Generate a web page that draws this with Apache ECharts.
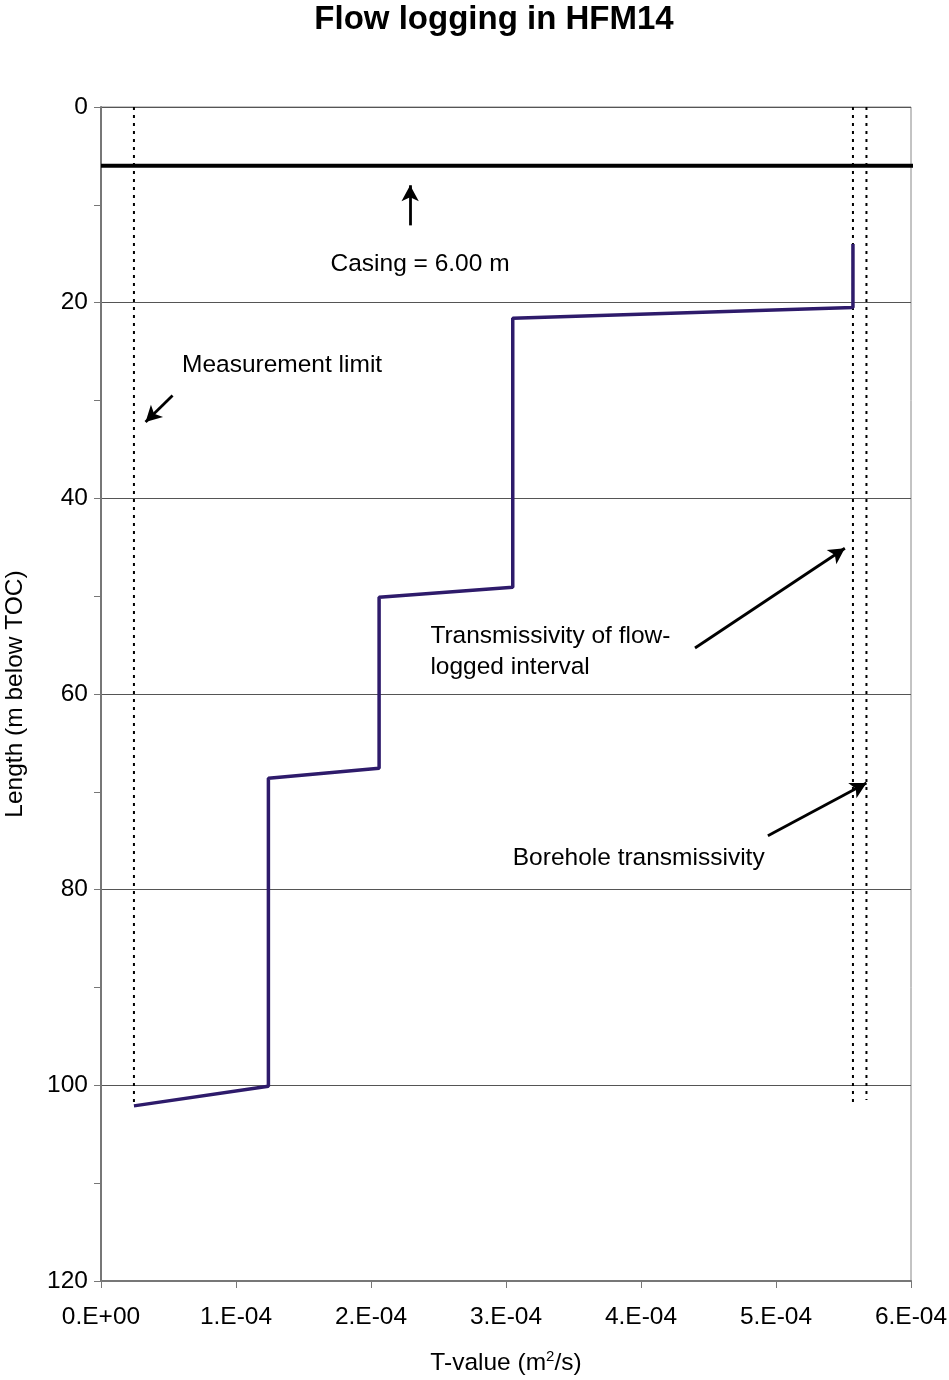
<!DOCTYPE html>
<html><head><meta charset="utf-8">
<script src="https://cdn.jsdelivr.net/npm/echarts@6/dist/echarts.min.js"></script>
<style>html,body{margin:0;padding:0;background:#fff}#c{width:949px;height:1380px}</style>
</head><body><div id="c"></div>
<script>
// Flow log profile: T-value (m2/s) vs length (m)
const flowT = [5.57e-4, 5.57e-4, 3.05e-4, 3.05e-4, 2.06e-4, 2.06e-4, 1.24e-4, 1.24e-4, 0.244e-4];
const flowL = [14.0, 20.5, 21.6, 49.1, 50.1, 67.6, 68.6, 100.1, 102.1];
const measLimitT = 0.244e-4;
const intervalT = 5.57e-4;
const boreholeT = 5.67e-4;
const dottedEnd = [102, 102, 101.5]; // measurement, interval, borehole
const casing = 6.0;
const xTicks = ['0.E+00','1.E-04','2.E-04','3.E-04','4.E-04','5.E-04','6.E-04'];
// annotation arrows [x1,y1,x2,y2] in data units (from -> to)
const arrows = [
  [2.29e-4, 12.1, 2.29e-4, 8.0],
  [0.53e-4, 29.5, 0.33e-4, 32.2],
  [4.40e-4, 55.3, 5.51e-4, 45.1],
  [4.94e-4, 74.5, 5.67e-4, 69.1]
];
const labels = [
  ['Casing = 6.00 m', 1.70e-4, 16.2],
  ['Measurement limit', 0.60e-4, 26.5],
  ['Transmissivity of flow-', 2.44e-4, 54.3],
  ['logged interval', 2.44e-4, 57.4],
  ['Borehole transmissivity', 3.05e-4, 76.9]
];

const chart = echarts.init(document.getElementById('c'), null, {renderer:'canvas'});
const FONT = 'Liberation Sans, Arial, sans-serif';
const FS = 24.5;
const dotted = {color:'#000', width:2, type:[3,5]};
function vline(x, yEnd){ return {type:'line', data:[[x,0],[x,yEnd]], symbol:'none', lineStyle:dotted, silent:true, z:3}; }

const series = [
  {type:'line', data:flowT.map((t,i)=>[t,flowL[i]]), symbol:'none', lineStyle:{color:'#2E1B6B', width:3.5}, z:5,
   markLine:{silent:true, symbol:['none','arrow'], symbolSize:[13,16], animation:false,
     label:{show:false}, lineStyle:{color:'#000', width:2.8, type:'solid'},
     data: arrows.map(a=>[{coord:[a[0],a[1]]},{coord:[a[2],a[3]]}])}},
  vline(measLimitT, dottedEnd[0]),
  vline(intervalT, dottedEnd[1]),
  vline(boreholeT, dottedEnd[2]),
  {type:'line', data:[[0,casing],[6.05e-4,casing]], symbol:'none', lineStyle:{color:'#000', width:4}, z:6, silent:true}
];

chart.setOption({
  animation:false,
  backgroundColor:'#fff',
  title:{text:'Flow logging in HFM14', left:489, top:-2, textAlign:'center',
    textStyle:{fontFamily:FONT, fontSize:33, fontWeight:'bold', color:'#000'}},
  grid:{left:101, top:107, width:810, height:1174, show:true, borderColor:'#888', borderWidth:1,
    containLabel:false, outerBoundsMode:'none'},
  xAxis:{type:'value', min:0, max:6e-4, interval:1e-4, position:'bottom',
    name:'{a|T-value (m}{s|2}{a|/s)}', nameLocation:'middle', nameGap:68,
    nameTextStyle:{fontFamily:FONT, fontSize:FS, color:'#000',
      rich:{a:{fontFamily:FONT, fontSize:FS, color:'#000', verticalAlign:'bottom'},
            s:{fontFamily:FONT, fontSize:15, color:'#000', verticalAlign:'top', padding:[0,0,12,0]}}},
    axisLine:{show:true, onZero:false, lineStyle:{color:'#777', width:2}},
    axisTick:{show:true, length:7, lineStyle:{color:'#777'}},
    axisLabel:{fontFamily:FONT, fontSize:FS, color:'#000', margin:24,
      formatter:(v)=>xTicks[Math.round(v/1e-4)]},
    splitLine:{show:false}},
  yAxis:{type:'value', inverse:true, min:0, max:120, interval:20,
    name:'Length (m below TOC)', nameLocation:'middle', nameGap:73,
    nameTextStyle:{fontFamily:FONT, fontSize:FS, color:'#000'},
    axisLine:{show:true, onZero:false, lineStyle:{color:'#777', width:2}},
    axisTick:{show:true, length:7, lineStyle:{color:'#777'}},
    minorTick:{show:true, splitNumber:2, length:7, lineStyle:{color:'#777'}},
    axisLabel:{fontFamily:FONT, fontSize:FS, color:'#000', margin:13},
    splitLine:{show:true, lineStyle:{color:'#555', width:1}}},
  series: series
});

const gr = [];
labels.forEach(l=>{
  const p = chart.convertToPixel({gridIndex:0}, [l[1], l[2]]);
  gr.push({type:'text', left:p[0], top:p[1]-14, z:10,
    style:{text:l[0], font:FS+'px '+FONT, fill:'#000'}});
});
chart.setOption({graphic:gr});
</script></body></html>
